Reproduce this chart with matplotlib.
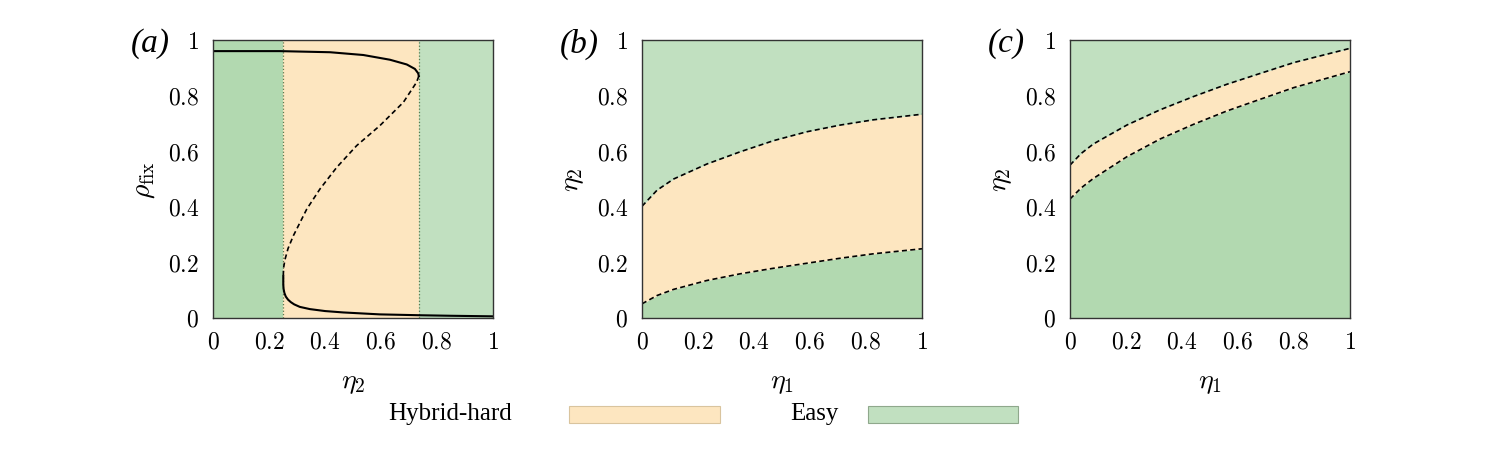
import numpy as np
import matplotlib.pyplot as plt

plt.rcParams['mathtext.fontset'] = 'cm'
plt.rcParams['font.family'] = 'serif'
plt.rcParams['font.serif'] = ['Liberation Serif', 'DejaVu Serif']

# kolory obszarow
c_hybrid = '#fde6c0'
c_easy = '#c1e0c0'
c_easy_dark = '#b2d9b0'

# (a) rho_fix(eta2) - galezie rozwiazania
fold_lo = 0.251
fold_hi = 0.735
gorna_eta = [0.0, 0.1, 0.239, 0.418, 0.537, 0.632, 0.692, 0.721, 0.733, 0.735]
gorna_rho = [0.960, 0.960, 0.960, 0.956, 0.946, 0.929, 0.912, 0.896, 0.880, 0.870]
srodek_eta = [0.735, 0.727, 0.680, 0.596, 0.513, 0.442, 0.382, 0.335, 0.287, 0.268, 0.257, 0.252, 0.251]
srodek_rho = [0.870, 0.848, 0.776, 0.692, 0.620, 0.542, 0.464, 0.392, 0.296, 0.25, 0.21, 0.18, 0.15]
dolna_eta = [0.251, 0.251, 0.252, 0.255, 0.26, 0.268, 0.278, 0.29, 0.31, 0.346, 0.40, 0.465, 0.596, 0.735, 0.85, 1.0]
dolna_rho = [0.15, 0.12, 0.105, 0.09, 0.077, 0.066, 0.057, 0.049, 0.04, 0.032, 0.025, 0.02, 0.013, 0.01, 0.008, 0.006]

# (b) granice obszaru hybrid-hard
b_eta1 = [0.0, 0.054, 0.113, 0.232, 0.351, 0.470, 0.589, 0.708, 0.827, 1.0]
b_gorna = [0.402, 0.46, 0.50, 0.554, 0.598, 0.638, 0.670, 0.694, 0.713, 0.733]
b_dolna = [0.051, 0.081, 0.103, 0.135, 0.159, 0.179, 0.197, 0.215, 0.231, 0.249]

# (c) granice obszaru hybrid-hard
c_eta1 = [0.0, 0.04, 0.0835, 0.203, 0.322, 0.442, 0.561, 0.680, 0.8, 1.0]
c_gorna = [0.550, 0.592, 0.626, 0.694, 0.749, 0.797, 0.841, 0.880, 0.919, 0.970]
c_dolna = [0.428, 0.468, 0.502, 0.580, 0.644, 0.697, 0.745, 0.787, 0.829, 0.886]

ticki = [0, 0.2, 0.4, 0.6, 0.8, 1]
ticki_txt = ['0', '0.2', '0.4', '0.6', '0.8', '1']

W, H = 1495, 452
fig = plt.figure(figsize=(W / 100, H / 100), dpi=100)


def osie(x0, etykieta_x, etykieta_y, litera):
    ax = fig.add_axes([x0 / W, (H - 319) / H, 280 / W, 278 / H])
    ax.set_xlim(0, 1)
    ax.set_ylim(0, 1)
    ax.set_xticks(ticki)
    ax.set_yticks(ticki)
    ax.set_xticklabels(['$' + t + '$' for t in ticki_txt])
    ax.set_yticklabels(['$' + t + '$' for t in ticki_txt])
    ax.tick_params(length=0, pad=10, labelsize=17)
    for s in ax.spines.values():
        s.set_color('#333333')
        s.set_linewidth(1.0)
        s.set_zorder(10)
    ax.set_xlabel(etykieta_x, fontsize=20, labelpad=12)
    ax.set_ylabel(etykieta_y, fontsize=20, labelpad=8)
    fig.text((x0 - 82) / W, (H - 44) / H, litera, fontsize=24,
             style='italic', ha='left', va='center')
    return ax


# panel (a)
ax = osie(213, r'$\eta_2$', r'$\rho_{\rm fix}$', '(a)')
ax.axvspan(0, fold_lo, color=c_easy_dark, lw=0)
ax.axvspan(fold_lo, fold_hi, color=c_hybrid, lw=0)
ax.axvspan(fold_hi, 1, color=c_easy, lw=0)
ax.axvline(fold_lo, color='#5b7a4e', ls=':', lw=0.9)
ax.axvline(fold_hi, color='#5b7a4e', ls=':', lw=0.9)
ax.plot(gorna_eta, gorna_rho, color='k', lw=1.5)
ax.plot(srodek_eta, srodek_rho, color='k', lw=1.2, dashes=(3, 2))
ax.plot(dolna_eta, dolna_rho, color='k', lw=1.5)

# panel (b)
ax = osie(642, r'$\eta_1$', r'$\eta_2$', '(b)')
ax.fill_between(b_eta1, 0, b_dolna, color=c_easy_dark, lw=0)
ax.fill_between(b_eta1, b_dolna, b_gorna, color=c_hybrid, lw=0)
ax.fill_between(b_eta1, b_gorna, 1, color=c_easy, lw=0)
ax.plot(b_eta1, b_gorna, color='k', lw=1.2, dashes=(3, 2))
ax.plot(b_eta1, b_dolna, color='k', lw=1.2, dashes=(3, 2))

# panel (c)
ax = osie(1070, r'$\eta_1$', r'$\eta_2$', '(c)')
ax.fill_between(c_eta1, 0, c_dolna, color=c_easy_dark, lw=0)
ax.fill_between(c_eta1, c_dolna, c_gorna, color=c_hybrid, lw=0)
ax.fill_between(c_eta1, c_gorna, 1, color=c_easy, lw=0)
ax.plot(c_eta1, c_gorna, color='k', lw=1.2, dashes=(3, 2))
ax.plot(c_eta1, c_dolna, color='k', lw=1.2, dashes=(3, 2))

# legenda
fig.text(388 / W, (H - 414) / H, 'Hybrid-hard', fontsize=18, va='center', ha='left')
fig.text(790 / W, (H - 414) / H, 'Easy', fontsize=18, va='center', ha='left')
fig.patches.append(plt.Rectangle((569 / W, (H - 424) / H), 151 / W, 17 / H,
                                 transform=fig.transFigure, facecolor=c_hybrid,
                                 edgecolor='#d9c49e', lw=0.8))
fig.patches.append(plt.Rectangle((868 / W, (H - 424) / H), 150 / W, 17 / H,
                                 transform=fig.transFigure, facecolor=c_easy,
                                 edgecolor='#8fa88c', lw=0.8))

fig.savefig('out.png', dpi=100)
